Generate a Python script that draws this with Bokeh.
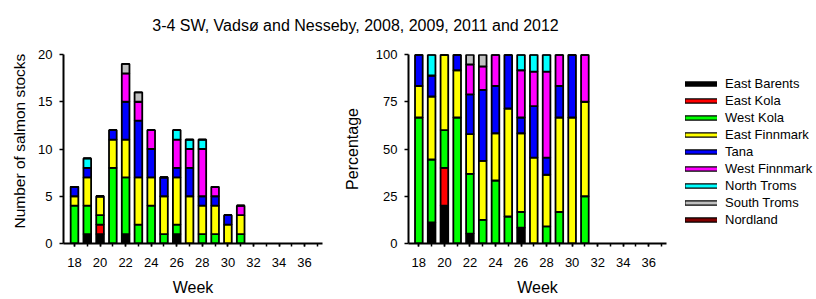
from bokeh.plotting import figure
from bokeh.models import Range1d, FixedTicker, Legend, LegendItem, ColumnDataSource, Title
from bokeh.layouts import column, row
from bokeh.core.properties import value
from bokeh.embed import file_html
from bokeh.resources import INLINE

FONT = "Liberation Sans"

# ---- data (number of salmon stocks per week, by region) ----
weeks = [18, 19, 20, 21, 22, 23, 24, 25, 26, 27, 28, 29, 30, 31]
east_barents  = [0, 1, 1, 0, 1, 0, 0, 0, 1, 0, 0, 0, 0, 0]
east_kola     = [0, 0, 1, 0, 0, 0, 0, 0, 0, 0, 0, 0, 0, 0]
west_kola     = [4, 3, 1, 8, 6, 2, 4, 1, 1, 0, 1, 1, 0, 1]
east_finnmark = [1, 3, 2, 3, 4, 5, 3, 4, 5, 5, 3, 3, 2, 2]
tana          = [1, 1, 0, 1, 4, 6, 3, 2, 1, 3, 1, 1, 1, 0]
west_finnmark = [0, 0, 0, 0, 3, 2, 2, 0, 3, 2, 5, 1, 0, 1]
north_troms   = [0, 1, 0, 0, 0, 0, 0, 0, 1, 1, 1, 0, 0, 0]
south_troms   = [0, 0, 0, 0, 1, 1, 0, 0, 0, 0, 0, 0, 0, 0]
nordland      = [0, 0, 0, 0, 0, 0, 0, 0, 0, 0, 0, 0, 0, 0]

region_names = ["East Barents", "East Kola", "West Kola", "East Finnmark", "Tana",
                "West Finnmark", "North Troms", "South Troms", "Nordland"]
region_colors = ["#000000", "#FF0000", "#00FF00", "#FFFF00", "#0000FF",
                 "#FF00FF", "#00FFFF", "#C0C0C0", "#800000"]
series = [east_barents, east_kola, west_kola, east_finnmark, tana,
          west_finnmark, north_troms, south_troms, nordland]

x_major = [18, 20, 22, 24, 26, 28, 30, 32, 34, 36]
x_minor = list(range(18, 38))
y_ticks_left = [0, 5, 10, 15, 20]
y_ticks_right = [0, 25, 50, 75, 100]
title_text = "3-4 SW, Vadsø and Nesseby, 2008, 2009, 2011 and 2012"

keys = ["s%d" % i for i in range(len(series))]
totals = [sum(col) for col in zip(*series)]
count_data = {"week": weeks}
pct_data = {"week": weeks}
for k, s in zip(keys, series):
    count_data[k] = s
    pct_data[k] = [v / t * 100.0 for v, t in zip(s, totals)]


def style(p, yticks, xtick_out=3, ytick_out=4):
    p.outline_line_color = None
    p.xgrid.visible = False
    p.ygrid.visible = False
    for ax in (p.xaxis[0], p.yaxis[0]):
        ax.axis_line_width = 2
        ax.axis_line_color = "black"
        ax.major_tick_line_width = 1.5
        ax.minor_tick_line_width = 1.5
        ax.major_tick_in = 0
        ax.minor_tick_in = 0
        ax.major_label_text_font = FONT
        ax.major_label_text_font_size = "13px"
        ax.major_label_text_color = "black"
        ax.axis_label_text_font = FONT
        ax.axis_label_text_font_style = "normal"
        ax.axis_label_text_color = "black"
    p.xaxis[0].ticker = FixedTicker(ticks=x_major, minor_ticks=x_minor)
    p.xaxis[0].major_tick_out = xtick_out
    p.xaxis[0].minor_tick_out = xtick_out
    p.xaxis[0].major_label_standoff = 11
    p.xaxis[0].axis_label_standoff = 9
    p.xaxis[0].axis_label_text_font_size = "16px"
    p.yaxis[0].ticker = FixedTicker(ticks=yticks, minor_ticks=[])
    p.yaxis[0].major_tick_out = ytick_out
    p.yaxis[0].major_label_standoff = 7


# ---- title strip ----
pt = figure(width=814, height=37, x_range=Range1d(0, 814), y_range=Range1d(0, 37),
            x_axis_location=None, y_axis_location=None, toolbar_location=None,
            output_backend="svg", min_border=0)
pt.outline_line_color = None
pt.xgrid.visible = False
pt.ygrid.visible = False
pt.text(x=[355], y=[12], text=[title_text], text_font=value(FONT), text_font_size="16px",
        text_align="center", text_baseline="alphabetic", text_color="black")

# ---- left: counts ----
p1 = figure(width=332, height=261, x_range=Range1d(17.14, 37.4), y_range=Range1d(0, 20),
            toolbar_location=None, output_backend="svg",
            min_border_left=63, min_border_right=10, min_border_top=16, min_border_bottom=55,
            x_axis_label="Week")
style(p1, y_ticks_left)
# y label drawn as a side title so it can start a little above the x axis, as in the reference
p1.add_layout(Title(text="Number of salmon stocks", align="left", offset=15, standoff=12,
                    vertical_align="top",
                    text_font=FONT, text_font_size="15.5px", text_font_style="normal",
                    text_color="black"), "left")
p1.vbar_stack(keys, x="week", width=0.6, source=ColumnDataSource(count_data),
              fill_color=region_colors, line_color="black", line_width=1.8)

# ---- right: percentages ----
p2 = figure(width=344, height=261, x_range=Range1d(17.19, 37.39), y_range=Range1d(0, 100),
            toolbar_location=None, output_backend="svg",
            min_border_left=76, min_border_right=10, min_border_top=17, min_border_bottom=55,
            x_axis_label="Week", y_axis_label="Percentage")
style(p2, y_ticks_right)
p2.yaxis[0].axis_label_standoff = 12
p2.yaxis[0].axis_label_text_font_size = "16px"
p2.vbar_stack(keys, x="week", width=0.6, source=ColumnDataSource(pct_data),
              fill_color=region_colors, line_color="black", line_width=1.8)

# ---- legend strip (dummy swatch renderers lie outside the visible range) ----
pl = figure(width=138, height=261, x_range=Range1d(0, 1), y_range=Range1d(0, 1),
            x_axis_location=None, y_axis_location=None, toolbar_location=None,
            output_backend="svg", min_border=0)
pl.outline_line_color = None
pl.xgrid.visible = False
pl.ygrid.visible = False
items = []
for name, col in zip(region_names, region_colors):
    r_out = pl.line(x=[-5, -4], y=[-5, -5], line_color="black", line_width=5.5, line_cap="square")
    r_in = pl.line(x=[-5, -4], y=[-5, -5], line_color=col, line_width=3)
    items.append(LegendItem(label=name, renderers=[r_out, r_in]))
legend = Legend(items=items, location=(9, 15), padding=0, margin=0, spacing=0,
                glyph_width=32, glyph_height=17, label_height=17, label_standoff=8,
                label_text_font=FONT, label_text_font_size="13px", label_text_color="black",
                border_line_color=None, background_fill_alpha=0)
pl.add_layout(legend)

layout = column(pt, row(p1, p2, pl))
open("out.html", "w").write(file_html(layout, INLINE))
